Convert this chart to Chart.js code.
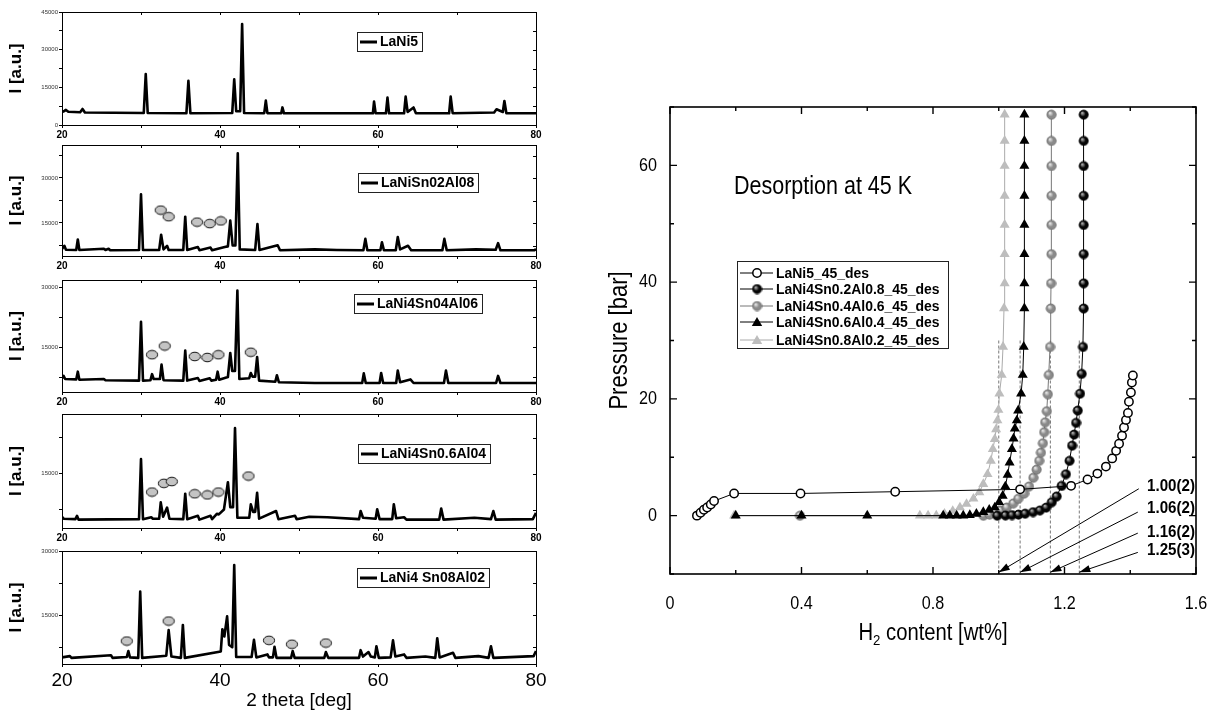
<!DOCTYPE html>
<html><head><meta charset="utf-8">
<script src="https://cdn.jsdelivr.net/npm/chart.js@4.4.1/dist/chart.umd.min.js"></script>
<style>
html,body{margin:0;padding:0;background:#fff;width:1216px;height:713px;overflow:hidden;position:relative;}
canvas{position:absolute;}
</style></head><body>
<canvas id="xrd0"></canvas><canvas id="xrd1"></canvas><canvas id="xrd2"></canvas><canvas id="xrd3"></canvas><canvas id="xrd4"></canvas>
<canvas id="pct"></canvas>
<script>
// ---------------- XRD data (2theta, intensity) ----------------
const xrdNames = ['LaNi5','LaNiSn02Al08','LaNi4Sn04Al06','LaNi4Sn0.6Al04','LaNi4 Sn08Al02'];
const xrdTickLabelsX = [20,40,60,80];
const xrdYRange = [[0,45000],[4000,41000],[3750,31750],[3660,27400],[3560,30000]];
const xrdYTickLabels = [[0,15000,30000,45000],[15000,30000],[15000,30000],[15000],[15000,30000]];

const xrd1 = [[20,5200],[20.3,5600],[20.5,6000],[20.8,5300],[22.3,5100],[22.6,6400],[22.9,5000],[30.35,4800],[30.6,20300],[30.85,4800],[35.75,4700],[36.0,17600],[36.25,4700],[41.55,4800],[41.8,18200],[42.05,5500],[42.55,5500],[42.8,40200],[43.05,4800],[45.6,4700],[45.8,9700],[46.0,4700],[47.75,4650],[47.9,7000],[48.1,4650],[59.35,4650],[59.5,9300],[59.7,4650],[61.0,4650],[61.2,10900],[61.4,4650],[63.3,4650],[63.5,11300],[63.75,5200],[64.5,7000],[64.8,4700],[69.0,4650],[69.2,11300],[69.45,4700],[74.7,5000],[75.0,6250],[75.8,5200],[76.0,9550],[76.25,4700],[80,4650]];
const xrd2 = [[20,6300],[20.3,7400],[20.5,6100],[21.8,6000],[22.0,9500],[22.2,6000],[25.3,6400],[25.5,6000],[25.9,6400],[26.1,5900],[29.75,6000],[30.0,24600],[30.25,6000],[32.3,6000],[32.55,11100],[32.85,6200],[33.3,7400],[33.5,6000],[35.35,6000],[35.6,17100],[35.85,6000],[37.2,7000],[37.4,5900],[38.8,6800],[39.0,5900],[40.6,7000],[41.0,7200],[41.3,15800],[41.6,7500],[41.95,7500],[42.25,38200],[42.5,6200],[44.45,6000],[44.74,14650],[45.0,6000],[47.3,7600],[47.6,5900],[52.0,6200],[54.8,6000],[58.15,5900],[58.4,9700],[58.65,5900],[60.3,5900],[60.5,8550],[60.75,5900],[62.25,5900],[62.5,10300],[62.8,6200],[63.8,7400],[64.2,5900],[68.15,5900],[68.4,9700],[68.7,5900],[72.4,6200],[74.9,6100],[75.2,8300],[75.5,5900],[79.8,5900],[80,6300]];
const xrd3 = [[20,7200],[20.2,7770],[20.4,7000],[21.8,6900],[22.0,8830],[22.2,6800],[25.3,7000],[25.5,6700],[29.75,6600],[30.0,21300],[30.25,6600],[31.2,6700],[31.4,8200],[31.6,7000],[32.4,7000],[32.6,10600],[32.85,6700],[35.35,6600],[35.6,14100],[35.85,6600],[37.2,7250],[37.4,6500],[38.7,7200],[38.9,6600],[39.5,6800],[39.7,8830],[39.9,6800],[41.0,7500],[41.3,13500],[41.55,9000],[41.9,9000],[42.2,29100],[42.45,7000],[43.7,7200],[43.9,8500],[44.1,7600],[44.45,7600],[44.7,12500],[44.95,6600],[47.0,6300],[47.2,7950],[47.45,6200],[52.0,6000],[54.7,6000],[58.0,6000],[58.2,8400],[58.45,6000],[60.2,6000],[60.4,8500],[60.65,6000],[62.3,6000],[62.5,9100],[62.8,6200],[64.1,6900],[64.5,6000],[66.8,6000],[68.35,6000],[68.6,9100],[68.9,6000],[72.8,6000],[74.95,6000],[75.2,7770],[75.5,6000],[80,6000]];
const xrd4 = [[20,6000],[20.2,5600],[21.7,5500],[21.9,6200],[22.1,5400],[29.75,5500],[30.0,18000],[30.25,5500],[31.3,5900],[31.5,5600],[32.3,5600],[32.5,9000],[32.8,6000],[33.3,7900],[33.6,5600],[35.35,5500],[35.6,10800],[35.85,5500],[37.2,6200],[37.4,5400],[38.8,6200],[39.0,5500],[39.6,6600],[39.85,6500],[40.5,7500],[41.0,13200],[41.3,8000],[41.65,8000],[41.9,24500],[42.2,5800],[43.7,5800],[43.9,8600],[44.2,7000],[44.45,7000],[44.7,11000],[44.95,5600],[47.1,7200],[47.4,5500],[49.5,6200],[49.7,5500],[51.3,6000],[53.6,5900],[57.6,5500],[57.8,7200],[58.1,5800],[59.7,5600],[59.9,7550],[60.2,5500],[61.8,5500],[62.0,8600],[62.3,5700],[63.3,5900],[63.6,5400],[67.75,5400],[68.0,7700],[68.3,5400],[72.2,5800],[74.3,5500],[74.6,7200],[74.9,5400],[79.6,5500],[80,6800]];
const xrd5 = [[20,5100],[21.0,5400],[21.2,5000],[26.2,5600],[26.4,5000],[28.2,5200],[28.4,6600],[28.6,5100],[29.65,5000],[29.9,20500],[30.15,5000],[33.2,5500],[33.5,11500],[33.85,5300],[35.05,5000],[35.3,12700],[35.55,5000],[40.1,6500],[40.3,11700],[40.55,10000],[40.9,14700],[41.15,8000],[41.55,7500],[41.8,26700],[42.05,5200],[44.0,5200],[44.3,9200],[44.6,5100],[46.0,5800],[46.2,5100],[46.7,5100],[46.9,7600],[47.15,5000],[49.0,5000],[49.2,6600],[49.45,5000],[53.2,5000],[53.4,6350],[53.7,5000],[57.6,5000],[57.8,6800],[58.1,5300],[58.8,6350],[59.1,5300],[59.6,5100],[59.8,7700],[60.1,5000],[61.6,5100],[61.9,9100],[62.2,5300],[63.3,5800],[63.6,5000],[66.0,5300],[67.25,5000],[67.5,9600],[67.8,5100],[69.5,6200],[69.8,5000],[72.7,5400],[74.0,5000],[74.3,7700],[74.6,5000],[79.7,5400],[80,6600]];
const xrdData = [xrd1,xrd2,xrd3,xrd4,xrd5];

// secondary-phase markers (grey ellipses)
const phase1 = [];
const phase2 = [[32.5,19300],[33.5,17100],[37.1,15300],[38.7,14800],[40.1,15700]];
const phase3 = [[31.4,13075],[33.0,15250],[36.8,12625],[38.4,12375],[39.8,13075],[43.9,13700]];
const phase4 = [[31.4,11150],[32.9,12960],[33.9,13340],[36.8,10780],[38.4,10550],[39.8,11150],[43.6,14480]];
const phase5 = [[28.2,8940],[33.5,13620],[46.2,9100],[49.1,8190],[53.4,8470]];
const xrdPhase = [phase1,phase2,phase3,phase4,phase5];

// ---------------- PCT desorption data (wt%, bar) ----------------
const lani5_x = [0.082,0.093,0.103,0.113,0.124,0.134,0.195,0.397,0.685,1.065,1.22,1.27,1.30,1.326,1.345,1.357,1.366,1.375,1.381,1.387,1.393,1.396,1.402,1.405,1.408];
const lani5_p = [0,0.5,1.0,1.4,1.9,2.5,3.8,3.8,4.1,4.5,5.1,6.2,7.2,8.4,9.8,11.1,12.3,13.7,15.1,16.4,17.6,19.5,21.1,22.8,24.0];
const sn02_x = [0.995,1.02,1.04,1.06,1.08,1.104,1.125,1.144,1.161,1.176,1.191,1.204,1.215,1.223,1.229,1.235,1.240,1.247,1.252,1.256,1.258,1.258,1.258,1.258,1.258,1.258,1.258,1.258];
const sn02_p = [0,0.05,0.1,0.2,0.35,0.6,0.9,1.4,2.3,3.3,5.1,7.1,9.4,12.0,13.9,15.9,18.0,20.9,24.3,28.9,35.5,39.8,44.8,49.8,54.8,59.9,64.2,68.7];
const sn04_x = [0.395,0.953,0.972,0.99,1.006,1.024,1.044,1.059,1.077,1.092,1.105,1.115,1.123,1.128,1.134,1.138,1.141,1.146,1.149,1.152,1.156,1.158,1.159,1.16,1.16,1.16,1.16,1.16,1.16];
const sn04_p = [0,0,0.2,0.5,0.9,1.4,2.1,2.9,3.8,5.0,6.5,7.9,9.4,10.8,12.4,14.3,16.0,17.9,20.8,24.1,28.9,35.5,39.8,44.8,49.8,54.8,59.9,64.2,68.7];
const sn06_x = [0.2,0.4,0.6,0.831,0.851,0.872,0.892,0.912,0.932,0.953,0.971,0.988,1.001,1.012,1.020,1.027,1.033,1.040,1.045,1.049,1.055,1.059,1.068,1.073,1.076,1.078,1.078,1.078,1.078,1.078,1.078,1.078,1.078];
const sn06_p = [0,0,0,0,0,0,0,0.1,0.3,0.6,1.0,1.4,2.3,3.4,5.0,7.0,9.1,11.4,13.2,14.9,16.3,18.0,20.9,24.1,28.9,35.5,39.8,44.8,49.8,54.8,59.9,64.2,68.7];
const sn08_x = [0.195,0.76,0.785,0.81,0.835,0.86,0.882,0.902,0.923,0.941,0.953,0.966,0.976,0.982,0.988,0.992,0.996,0.999,1.002,1.009,1.013,1.016,1.018,1.018,1.018,1.018,1.018,1.018,1.018];
const sn08_p = [0,0,0,0,0.3,0.8,1.4,2.0,2.9,4.0,5.4,7.1,9.4,11.4,13.1,14.8,16.3,18.1,20.9,24.1,28.9,35.5,39.8,44.8,49.8,54.8,59.9,64.2,68.7];
const pctNames = ['LaNi5_45_des','LaNi4Sn0.2Al0.8_45_des','LaNi4Sn0.4Al0.6_45_des','LaNi4Sn0.6Al0.4_45_des','LaNi4Sn0.8Al0.2_45_des'];
const capacityValues = [1.00,1.065,1.157,1.245];
const capacityLabels = ['1.00(2)','1.06(2)','1.16(2)','1.25(3)'];
const hTicks = [0,0.4,0.8,1.2,1.6];
const hTickLabels = ['0','0.4','0.8','1.2','1.6'];
const pTicks = [0,20,40,60];
const pTickLabels = ['0','20','40','60'];

// ---------------- styling / layout ----------------
const SANS = "'Liberation Sans', Arial, sans-serif";
const xrdTop = [12,145,280,414,551];
const xrdBottom = [125,256,392,528,664];
const xrdLegendPos = [[357,41],[358,182],[354,303],[358,453],[357,577]];

function ntext(ctx,text,x,y,o){
  ctx.save(); ctx.translate(x,y); if(o.rot) ctx.rotate(o.rot); ctx.scale(o.sx||0.85,1);
  ctx.font=(o.bold?'bold ':'')+o.size+'px '+SANS;
  ctx.textAlign=o.align||'left'; ctx.textBaseline=o.baseline||'middle';
  ctx.fillStyle=o.color||'#000'; ctx.fillText(text,0,0); ctx.restore();
}
function nwidth(ctx,text,o){
  ctx.save(); ctx.font=(o.bold?'bold ':'')+o.size+'px '+SANS; const w=ctx.measureText(text).width*(o.sx||0.85); ctx.restore(); return w;
}
function ellipseImg(){
  const c=document.createElement('canvas'); c.width=14; c.height=11;
  const g=c.getContext('2d'); g.fillStyle='#c4c4c4'; g.strokeStyle='#111'; g.lineWidth=1;
  g.beginPath(); g.ellipse(7,5.5,5.6,4.3,0,0,Math.PI*2); g.fill(); g.stroke(); return c;
}
function sphereImg(base,hi,edge,r){
  const c=document.createElement('canvas'); const s=2*r+2; c.width=s; c.height=s;
  const g=c.getContext('2d'); const cx=r+1, cy=r+1;
  const grd=g.createRadialGradient(cx-r*0.35,cy-r*0.4,r*0.1,cx,cy,r);
  grd.addColorStop(0,hi); grd.addColorStop(0.55,base); grd.addColorStop(1,base);
  g.fillStyle=grd; g.beginPath(); g.arc(cx,cy,r,0,Math.PI*2); g.fill();
  g.strokeStyle=edge; g.lineWidth=0.8; g.stroke(); return c;
}
const ELL = ellipseImg();
const BSPH = sphereImg('#050505','#b0b0b0','#000',4.6);
const GSPH = sphereImg('#8a8a8a','#e8e8e8','#6a6a6a',4.6);

// ---------------- XRD panels ----------------
const xrdPlugin = {
  id:'xrdFrame',
  afterDraw(chart){
    const {ctx, chartArea:a, scales:{x,y}} = chart;
    const i = chart.options.panelIndex;
    ctx.save();
    ctx.strokeStyle='#000'; ctx.lineWidth=1;
    ctx.strokeRect(Math.round(a.left)+0.5, Math.round(a.top)+0.5, Math.round(a.right-a.left), Math.round(a.bottom-a.top));
    ctx.beginPath();
    [20,30,40,50,60,70,80].forEach(v=>{const px=Math.round(x.getPixelForValue(v))+0.5; ctx.moveTo(px,a.top); ctx.lineTo(px,a.top+3);});
    y.ticks.forEach(t=>{const py=Math.round(y.getPixelForValue(t.value))+0.5; ctx.moveTo(a.right,py); ctx.lineTo(a.right-3,py);});
    ctx.stroke();
    const [lx,ly] = xrdLegendPos[i];
    const bx = lx, by = ly-chart.canvas.offsetTop;
    ctx.font = 'bold 14px '+SANS;
    const tw = ctx.measureText(xrdNames[i]).width;
    const w = 24+tw+3, h=19;
    ctx.fillStyle='#fff'; ctx.fillRect(bx,by-h/2,w,h);
    ctx.strokeStyle='#222'; ctx.lineWidth=1; ctx.strokeRect(Math.round(bx)+0.5,Math.round(by-h/2)+0.5,Math.round(w),h);
    ctx.lineWidth=3; ctx.strokeStyle='#000'; ctx.beginPath(); ctx.moveTo(bx+3,by+1); ctx.lineTo(bx+20,by+1); ctx.stroke();
    ctx.fillStyle='#000'; ctx.textBaseline='middle'; ctx.textAlign='left';
    ctx.fillText(xrdNames[i], bx+23, by+1);
    ctx.restore();
  }
};

function makeXrd(i){
  const cv=document.getElementById('xrd'+i);
  const padTop=8;
  const last = (i===4);
  const xh = last ? (713-xrdBottom[i]) : 18;
  const h = xrdBottom[i]-xrdTop[i]+padTop+xh;
  cv.width=560; cv.height=h; cv.style.left='0px'; cv.style.top=(xrdTop[i]-padTop)+'px';
  const yLab = xrdYTickLabels[i];
  const [ymin,ymax] = xrdYRange[i];
  new Chart(cv,{
    type:'line',
    data:{datasets:[
      {label:'phase', data:xrdPhase[i].map(p=>({x:p[0],y:p[1]})), showLine:false, pointStyle:ELL, pointRadius:6, order:0, clip:false},
      {label:xrdNames[i], data:xrdData[i].map(p=>({x:p[0],y:p[1]})), borderColor:'#000', borderWidth:2.6, pointRadius:0, tension:0, order:1, borderJoinStyle:'round'}
    ]},
    options:{
      panelIndex:i,
      responsive:false, animation:false, devicePixelRatio:1,
      layout:{padding:{top:padTop,right:24,left:0,bottom:0}},
      plugins:{legend:{display:false},tooltip:{enabled:false}},
      scales:{
        x:{type:'linear',min:20,max:80,
          afterFit:s=>{s.height=xh;},
          afterBuildTicks:s=>{s.ticks=[20,30,40,50,60,70,80].map(v=>({value:v}));},
          ticks:{autoSkip:false,maxRotation:0,padding:last?2:1,color:'#000',
            font: last?{family:SANS,size:19}:{family:SANS,size:10,weight:'bold'},
            callback:v=> xrdTickLabelsX.includes(v)?String(v):''},
          grid:{display:true,drawOnChartArea:false,tickLength:3,color:'#000'},
          border:{display:true,color:'#000',width:1},
          title: last?{display:true,text:'2 theta [deg]',color:'#000',font:{family:SANS,size:19},padding:{top:0,bottom:1}}:{display:false}
        },
        y:{type:'linear',min:ymin,max:ymax,
          afterFit:s=>{s.width=62;},
          afterBuildTicks:s=>{
            const step=7500, arr=[];
            for(let v=Math.ceil(ymin/step)*step; v<=ymax; v+=step) arr.push({value:v});
            s.ticks=arr;},
          ticks:{autoSkip:false,padding:1,color:'#333',font:{family:SANS,size:6},
            callback:v=> yLab.includes(v)?String(v):''},
          grid:{display:true,drawOnChartArea:false,tickLength:3,color:'#000'},
          border:{display:true,color:'#000',width:1},
          title:{display:true,text:'I [a.u.]',color:'#000',font:{family:SANS,size:17,weight:'bold'},padding:{top:6,bottom:0}}
        }
      }
    },
    plugins:[xrdPlugin]
  });
}
for(let i=0;i<5;i++) makeXrd(i);

// ---------------- PCT chart ----------------
const PCT_LEFT=580, PCT_TOP=80, PCT_W=636, PCT_H=633;
function pts(xs,ps){return xs.map((x,k)=>({x:x,y:ps[k]}));}
function drawTri(ctx,x,y,r,fill){
  ctx.beginPath();
  ctx.moveTo(x,y-r); ctx.lineTo(x+r*0.866,y+r*0.5); ctx.lineTo(x-r*0.866,y+r*0.5); ctx.closePath();
  ctx.fillStyle=fill; ctx.fill();
}
function arrow(ctx,x0,y0,x1,y1){
  ctx.beginPath(); ctx.moveTo(x0,y0); ctx.lineTo(x1,y1); ctx.stroke();
  const a=Math.atan2(y1-y0,x1-x0), L=11, W=3.6;
  ctx.beginPath(); ctx.moveTo(x1,y1);
  ctx.lineTo(x1-L*Math.cos(a)+W*Math.sin(a), y1-L*Math.sin(a)-W*Math.cos(a));
  ctx.lineTo(x1-L*Math.cos(a)-W*Math.sin(a), y1-L*Math.sin(a)+W*Math.cos(a));
  ctx.closePath(); ctx.fill();
}
const arrowFrom = [[1.426,4.6],[1.423,0.6],[1.423,-3.0],[1.423,-6.3]];
const capLabelY = [5.1,1.2,-2.9,-6.0];

const pctPlugin = {
  id:'pctDeco',
  afterDraw(chart){
    const {ctx, chartArea:a, scales:{x,y}} = chart;
    ctx.save();
    ctx.strokeStyle='#000'; ctx.lineWidth=1.6;
    ctx.strokeRect(a.left,a.top,a.right-a.left,a.bottom-a.top);
    ctx.lineWidth=1.4; ctx.beginPath();
    for(let k=0;k<=8;k++){
      const v=k*0.2, px=x.getPixelForValue(v), L=(k%2===0)?7:4;
      ctx.moveTo(px,a.bottom); ctx.lineTo(px,a.bottom-L);
      ctx.moveTo(px,a.top); ctx.lineTo(px,a.top+L);
    }
    for(let v=-10;v<=70;v+=10){
      const py=y.getPixelForValue(v), L=(v%20===0)?7:4;
      ctx.moveTo(a.left,py); ctx.lineTo(a.left+L,py);
      ctx.moveTo(a.right,py); ctx.lineTo(a.right-L,py);
    }
    ctx.stroke();
    hTicks.forEach((v,k)=> ntext(ctx,hTickLabels[k],x.getPixelForValue(v),a.bottom+30,{size:19,align:'center',sx:0.85}));
    pTicks.forEach((v,k)=> ntext(ctx,pTickLabels[k],a.left-13,y.getPixelForValue(v),{size:19,align:'right',sx:0.85}));
    ntext(ctx,'Pressure [bar]',40,(a.top+a.bottom)/2,{size:25,align:'center',rot:-Math.PI/2,sx:0.88});
    const o1={size:23,sx:0.88}, o2={size:15,sx:0.88};
    const wH=nwidth(ctx,'H',o1), w2=nwidth(ctx,'2',o2), wR=nwidth(ctx,' content [wt%]',o1);
    let sx=(a.left+a.right)/2-(wH+w2+wR)/2; const by=a.bottom+66;
    ntext(ctx,'H',sx,by,{...o1,baseline:'alphabetic'}); sx+=wH;
    ntext(ctx,'2',sx,by+5,{...o2,baseline:'alphabetic'}); sx+=w2;
    ntext(ctx,' content [wt%]',sx,by,{...o1,baseline:'alphabetic'});
    ntext(ctx,'Desorption at 45 K',a.left+64,y.getPixelForValue(56.2),{size:25,sx:0.86});
    ctx.strokeStyle='#000'; ctx.fillStyle='#000'; ctx.lineWidth=1;
    capacityValues.forEach((c,k)=>{
      arrow(ctx, x.getPixelForValue(arrowFrom[k][0]), y.getPixelForValue(arrowFrom[k][1]), x.getPixelForValue(c), y.getPixelForValue(-9.7));
    });
    capacityLabels.forEach((t,k)=> ntext(ctx,t,a.right-1,y.getPixelForValue(capLabelY[k]),{size:17,bold:true,align:'right',sx:0.89}));
    const lx=a.left+67, ly=a.top+154, lw=211, lh=87;
    ctx.fillStyle='#fff'; ctx.fillRect(lx,ly,lw,lh);
    ctx.strokeStyle='#222'; ctx.lineWidth=1; ctx.strokeRect(lx+0.5,ly+0.5,lw,lh);
    const ey=[12,28,45,61,79];
    const lineCol=['#000','#000','#777','#000','#aaa'];
    for(let k=0;k<5;k++){
      const yy=ly+ey[k];
      ctx.strokeStyle=lineCol[k]; ctx.lineWidth=1; ctx.beginPath(); ctx.moveTo(lx+3,yy); ctx.lineTo(lx+36,yy); ctx.stroke();
      const mx=lx+20;
      if(k===0){ctx.beginPath(); ctx.arc(mx,yy,4.2,0,Math.PI*2); ctx.fillStyle='#fff'; ctx.fill(); ctx.strokeStyle='#000'; ctx.lineWidth=1.5; ctx.stroke();}
      else if(k===1){ctx.drawImage(BSPH,mx-BSPH.width/2,yy-BSPH.height/2);}
      else if(k===2){ctx.drawImage(GSPH,mx-GSPH.width/2,yy-GSPH.height/2);}
      else if(k===3){drawTri(ctx,mx,yy+1,6,'#000');}
      else {drawTri(ctx,mx,yy+1,6,'#bdbdbd');}
      ntext(ctx,pctNames[k],lx+39,yy+1,{size:15.5,bold:true,sx:0.9});
    }
    ctx.restore();
  }
};

(function(){
  const cv=document.getElementById('pct');
  cv.width=PCT_W; cv.height=PCT_H; cv.style.left=PCT_LEFT+'px'; cv.style.top=PCT_TOP+'px';
  const dashed = capacityValues.map(c=>({data:[{x:c,y:30},{x:c,y:-10}], borderColor:'#777', borderWidth:1, borderDash:[3,2], pointRadius:0, order:10, clip:false}));
  new Chart(cv,{
    type:'line',
    data:{datasets:[
      ...dashed,
      {label:pctNames[0], data:pts(lani5_x,lani5_p), borderColor:'#000', borderWidth:1, pointStyle:'circle', pointRadius:4.2, pointBackgroundColor:'#fff', pointBorderColor:'#000', pointBorderWidth:1.5, order:0, clip:false},
      {label:pctNames[1], data:pts(sn02_x,sn02_p), borderColor:'#000', borderWidth:1, pointStyle:BSPH, order:2, clip:false},
      {label:pctNames[2], data:pts(sn04_x,sn04_p), borderColor:'#777', borderWidth:1, pointStyle:GSPH, order:3, clip:false},
      {label:pctNames[3], data:pts(sn06_x,sn06_p), borderColor:'#000', borderWidth:1, pointStyle:'triangle', pointRadius:5.8, pointBackgroundColor:'#000', pointBorderColor:'#000', pointBorderWidth:0, order:1, clip:false},
      {label:pctNames[4], data:pts(sn08_x,sn08_p), borderColor:'#aaa', borderWidth:1, pointStyle:'triangle', pointRadius:5.8, pointBackgroundColor:'#bdbdbd', pointBorderColor:'#bdbdbd', pointBorderWidth:0, order:4, clip:false}
    ]},
    options:{
      responsive:false, animation:false, devicePixelRatio:1,
      layout:{padding:{top:27,right:20,left:0,bottom:0}},
      plugins:{legend:{display:false},tooltip:{enabled:false}},
      elements:{line:{tension:0}},
      scales:{
        x:{type:'linear',min:0,max:1.6,
          afterFit:s=>{s.height=PCT_H-494;},
          afterBuildTicks:s=>{s.ticks=hTicks.map(v=>({value:v}));},
          ticks:{display:false},
          grid:{display:false,drawTicks:false},
          border:{display:false}
        },
        y:{type:'linear',min:-10,max:70,
          afterFit:s=>{s.width=90;},
          afterBuildTicks:s=>{s.ticks=pTicks.map(v=>({value:v}));},
          ticks:{display:false},
          grid:{display:false,drawTicks:false},
          border:{display:false}
        }
      }
    },
    plugins:[pctPlugin]
  });
})();
</script>
</body></html>
